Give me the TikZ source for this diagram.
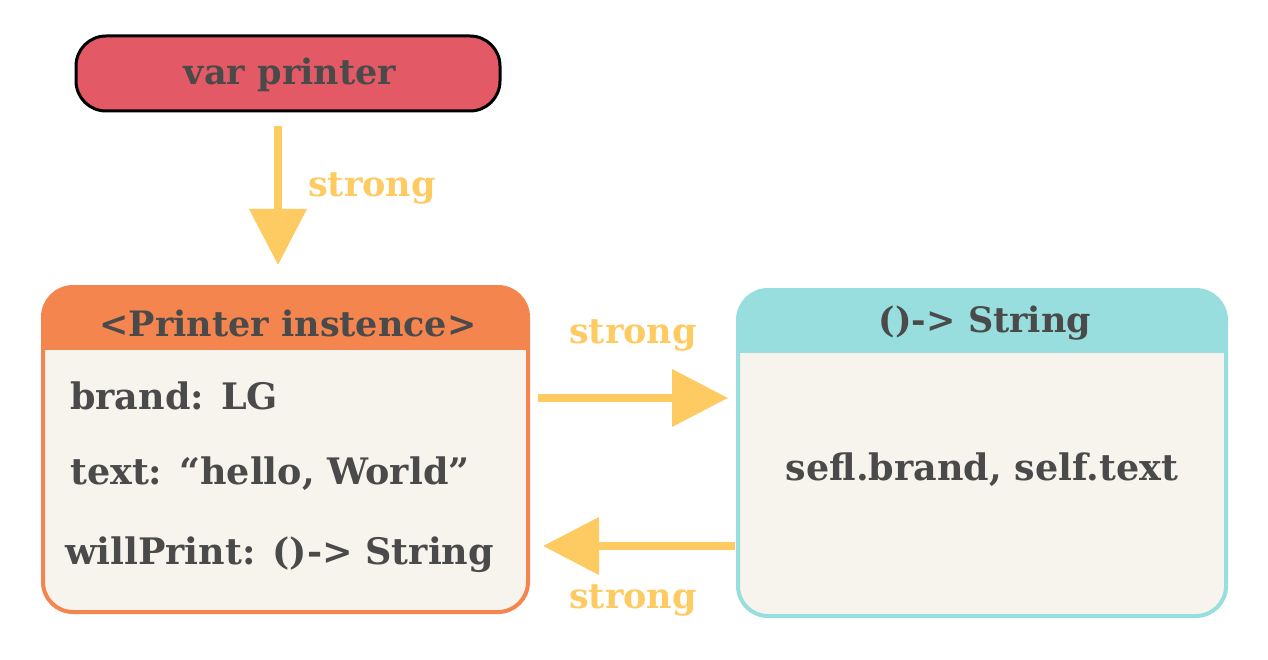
\documentclass[tikz,border=0pt]{standalone}
\usepackage{fontspec}
\setmainfont{DejaVu Serif}
\usetikzlibrary{arrows.meta,calc}
\definecolor{txt}{HTML}{4A4A4A}
\definecolor{arrc}{HTML}{FECB62}
\definecolor{redc}{HTML}{E35A66}
\definecolor{orac}{HTML}{F4854F}
\definecolor{teac}{HTML}{98DEDE}
\definecolor{bodyc}{HTML}{F6F4EC}
\tikzset{
  lbl/.style={font=\fontsize{35}{38}\selectfont\bfseries, text=txt, inner sep=0pt},
  blbl/.style={font=\fontsize{36.5}{40}\selectfont\bfseries, text=txt, inner sep=0pt},
  albl/.style={font=\fontsize{35}{38}\selectfont\bfseries, text=arrc, inner sep=0pt},
  arr/.style={draw=arrc, line width=7.5pt, -{Triangle[length=56pt,width=56pt]}},
  card/.style 2 args={draw=#1, line width=4pt, fill=bodyc, rounded corners=30pt,
     minimum width=485pt, minimum height=325pt, inner sep=0pt,
     path picture={\fill[#1, sharp corners] (path picture bounding box.north west) rectangle ([yshift=-#2]path picture bounding box.north east);}},
}
\begin{document}
\begin{tikzpicture}[x=1pt,y=-1pt]
\useasboundingbox (0,0) rectangle (1268,660);
\node[draw=black, line width=3pt, fill=redc, rounded corners=30pt, minimum width=424pt, minimum height=75pt, inner sep=0pt] (varp) at (288,73.5) {};
\node[lbl] (varpt) at (290,75) {var printer};
\node[card={orac}{63pt}] (inst) at (285.5,449.5) {};
\node[lbl] (instt) at (288,323) {<Printer instence>};
\node[blbl, anchor=west] (l1) at (70,396) {brand: LG};
\node[blbl, anchor=west] (l2) at (70,474) {text: “hello, World”};
\node[blbl, anchor=west] (l3) at (65,555) {willPrint: ()-> String};
\node[card={teac}{63pt}, minimum width=488pt, minimum height=326pt] (fn) at (982,453) {};
\node[lbl] (fnt) at (985,323) {()-> String};
\node[blbl] (fnb) at (982,470) {sefl.brand, self.text};
\coordinate (dtop) at (278,126);
\coordinate (dtip) at (278,265);
\draw[arr] (dtop) -- (dtip);
\node[albl, anchor=west] (s1) at (308,188) {strong};
\coordinate (r1) at (538,398);
\coordinate (r2) at (728,398);
\draw[arr] (r1) -- (r2);
\node[albl] (s2) at (633,335) {strong};
\coordinate (b1) at (735,546);
\coordinate (b2) at (543,546);
\draw[arr] (b1) -- (b2);
\node[albl] (s3) at (633,600) {strong};
\end{tikzpicture}
\end{document}
